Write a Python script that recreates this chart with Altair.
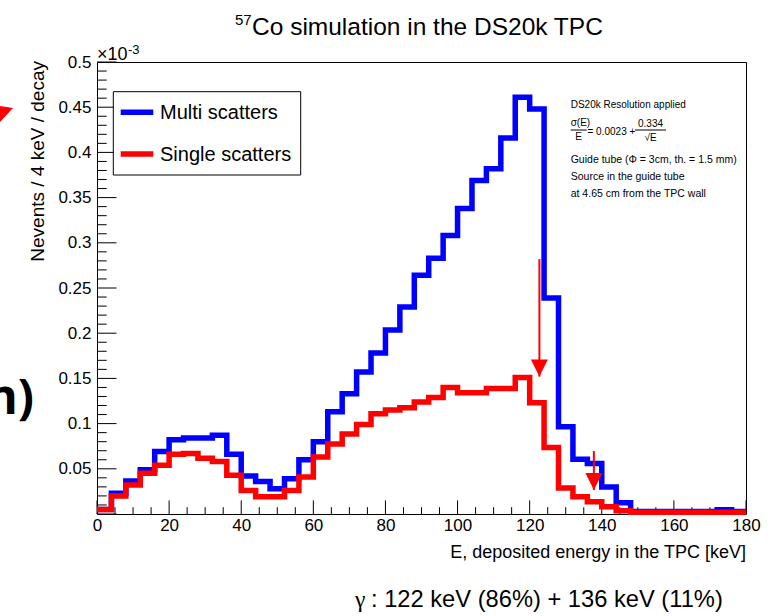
import altair as alt
import pandas as pd

# ---- histogram content: 4 keV bins from 0 to 180 keV, values in units of 1e-3 per decay
bin_lo = list(range(0, 180, 4))

multi_scatters = [
    0.005, 0.023, 0.0365, 0.049, 0.069, 0.082, 0.084, 0.084, 0.087, 0.066,
    0.042, 0.036, 0.028, 0.039, 0.060, 0.080, 0.113, 0.133, 0.157, 0.178,
    0.2035, 0.229, 0.264, 0.283, 0.308, 0.338, 0.369, 0.382, 0.416, 0.461,
    0.448, 0.239, 0.0966, 0.0605, 0.056, 0.030, 0.0125, 0.0028, 0.0028, 0.0028,
    0.0028, 0.0028, 0.0028, 0.0048, 0.0028,
]
single_scatters = [
    0.005, 0.020, 0.032, 0.045, 0.054, 0.066, 0.067, 0.0616, 0.058, 0.043,
    0.026, 0.019, 0.019, 0.026, 0.041, 0.063, 0.0774, 0.0885, 0.099, 0.111,
    0.115, 0.1176, 0.124, 0.129, 0.140, 0.134, 0.134, 0.1387, 0.1387, 0.151,
    0.123, 0.0736, 0.0288, 0.019, 0.0136, 0.008, 0.0037, 0.002, 0.002, 0.002,
    0.002, 0.002, 0.002, 0.002, 0.002,
]
series_names = ["Multi scatters", "Single scatters"]
series_colors = ["#0000ff", "#ff0000"]

# gamma-line markers (energy, shaft top, arrow tip)
arrow_energy = [122.7, 137.8]
arrow_top = [0.282, 0.0697]
arrow_tip = [0.152, 0.0265]

# axis ticks
x_major = [0, 20, 40, 60, 80, 100, 120, 140, 160, 180]
x_minor = [v for v in range(5, 180, 5) if v % 20]
y_labels = [0.05, 0.1, 0.15, 0.2, 0.25, 0.3, 0.35, 0.4, 0.45, 0.5]
y_major = [0.0] + y_labels
y_minor = [round(i * 0.01, 2) for i in range(1, 50) if i % 5]

info_lines = [
    "Guide tube (\u03a6 = 3cm, th. = 1.5 mm)",
    "Source in the guide tube",
    "at 4.65 cm from the TPC wall",
]

W, H = 649, 452
FONT = "Liberation Sans"
xscale = alt.Scale(domain=[0, 180], nice=False, zero=False)
yscale = alt.Scale(domain=[0, 0.5], nice=False, zero=False)

# one axis definition per channel, shared by every layer so they merge
x_axis = alt.Axis(values=x_major, title=None, ticks=False, tickSize=0,
                  domain=False, grid=False, labelFont=FONT, labelFontSize=17,
                  labelColor="black", labelPadding=3, labelFlush=False,
                  labelOverlap=False)
y_axis = alt.Axis(values=y_labels, format="~g", title=None, ticks=False,
                  tickSize=0, domain=False, grid=False, labelFont=FONT,
                  labelFontSize=17, labelColor="black", labelPadding=6,
                  labelOverlap=False)


def X(field):
    return alt.X(field, scale=xscale, axis=x_axis)


def Y(field):
    return alt.Y(field, scale=yscale, axis=y_axis)


def hist_frame(values, name):
    return pd.DataFrame({
        "E": bin_lo + [180],
        "N": values + [values[-1]],
        "series": name,
    })


def label(text, x, y, size, align="left", baseline="middle", font=FONT,
          weight="normal", angle=0, color="black"):
    kw = dict(align=align, baseline=baseline, font=font, fontSize=size,
              fontWeight=weight, color=color)
    if angle:
        kw["angle"] = angle
    return alt.Chart(pd.DataFrame({"t": [text]})).mark_text(**kw).encode(
        x=alt.value(x), y=alt.value(y), text="t:N")


def hrule(x1, x2, y, color="black", width=1.0):
    return alt.Chart(pd.DataFrame({"k": [0]})).mark_rule(
        color=color, strokeWidth=width).encode(
        x=alt.value(x1), x2=alt.value(x2), y=alt.value(y))


layers = []

# inward-pointing ROOT style ticks
layers.append(alt.Chart(pd.DataFrame({"yt": y_major})).mark_rule(
    color="black", strokeWidth=1).encode(
    y=Y("yt:Q"), x=alt.value(0), x2=alt.value(19.5)))
layers.append(alt.Chart(pd.DataFrame({"yt": y_minor})).mark_rule(
    color="black", strokeWidth=1).encode(
    y=Y("yt:Q"), x=alt.value(0), x2=alt.value(9.7)))
layers.append(alt.Chart(pd.DataFrame({"xt": x_major})).mark_rule(
    color="black", strokeWidth=1).encode(
    x=X("xt:Q"), y=alt.value(H), y2=alt.value(H - 13.6)))
layers.append(alt.Chart(pd.DataFrame({"xt": x_minor})).mark_rule(
    color="black", strokeWidth=1).encode(
    x=X("xt:Q"), y=alt.value(H), y2=alt.value(H - 6.8)))

# histograms, single scatters drawn on top
for vals, name, col in zip([multi_scatters, single_scatters],
                           series_names, series_colors):
    layers.append(alt.Chart(hist_frame(vals, name)).mark_line(
        interpolate="step-after", color=col, strokeWidth=5.5,
        strokeJoin="miter", strokeCap="butt").encode(x=X("E:Q"), y=Y("N:Q")))

# arrows marking the gamma lines
arrows = pd.DataFrame({"E": arrow_energy, "top": arrow_top, "tip": arrow_tip})
layers.append(alt.Chart(arrows).mark_rule(color="#ff0000", strokeWidth=2).encode(
    x=X("E:Q"), y=Y("top:Q"), y2=alt.Y2("tip:Q")))
layers.append(alt.Chart(arrows).mark_point(
    shape="M-1,-2L1,-2L0,0Z", size=289, filled=True, opacity=1,
    color="#ff0000", strokeWidth=0).encode(x=X("E:Q"), y=Y("tip:Q")))

# legend box
layers.append(alt.Chart(pd.DataFrame({"k": [0]})).mark_rect(
    fill="white", stroke="black", strokeWidth=1).encode(
    x=alt.value(16.3), x2=alt.value(203.7), y=alt.value(29.7), y2=alt.value(113)))
for j, (name, col) in enumerate(zip(series_names, series_colors)):
    yy = 50.3 + j * 41.7
    layers.append(hrule(23.7, 56.3, yy, color=col, width=5.5))
    layers.append(label(name, 63, yy + 1, 20))

# resolution / source description
layers.append(label("DS20k Resolution applied", 473.7, 43, 10))
layers.append(label("\u03c3(E)", 473.7, 61, 10))
layers.append(hrule(473.7, 489.7, 68))
layers.append(label("E", 481.7, 74.5, 10, align="center"))
layers.append(label("= 0.0023 +", 490.5, 69.7, 10))
layers.append(label("0.334", 553.5, 62, 10, align="center"))
layers.append(hrule(538, 569, 68))
layers.append(label("\u221aE", 553.5, 75.5, 10, align="center"))
for k, line in enumerate(info_lines):
    layers.append(label(line, 473.7, 98 + k * 17.2, 10.5))

# titles
layers.append(label("57", 138, -37, 15, baseline="alphabetic"))
layers.append(label("Co simulation in the DS20k TPC", 155, -27.5, 24.5,
                    baseline="alphabetic"))
layers.append(label("\u00d710", 0, -2, 18, baseline="alphabetic"))
layers.append(label("-3", 31, -8, 13, baseline="alphabetic"))
layers.append(label("Nevents / 4 keV / decay", -59, -1, 19, align="right",
                    angle=270))
layers.append(label("E, deposited energy in the TPC [keV]", W, 491, 18,
                    align="right"))
layers.append(label("\u03b3", 258, 538, 23.5, font="Liberation Serif"))
layers.append(label(": 122 keV (86%) + 136 keV (11%)", 274, 538, 23.7))

# slide fragments at the left edge
layers.append(alt.Chart(pd.DataFrame({"k": [0]})).mark_point(
    shape="M13,-6L-11.7,-9.8L-4,12.3Z", size=4, filled=True, opacity=1,
    color="#ff0000", strokeWidth=0).encode(x=alt.value(-97), y=alt.value(52)))
layers.append(label("n)", -63, 352, 48, align="right", baseline="alphabetic",
                    font="Open Sans", weight="bold"))

chart = alt.layer(*layers).properties(
    width=W, height=H,
    autosize=alt.AutoSizeParams(type="none"),
    padding={"left": 97, "top": 62, "right": 30, "bottom": 102},
    background="white",
).configure_view(stroke="black", strokeWidth=1)

chart.save("out.html", embed_options={"renderer": "svg", "actions": False})
